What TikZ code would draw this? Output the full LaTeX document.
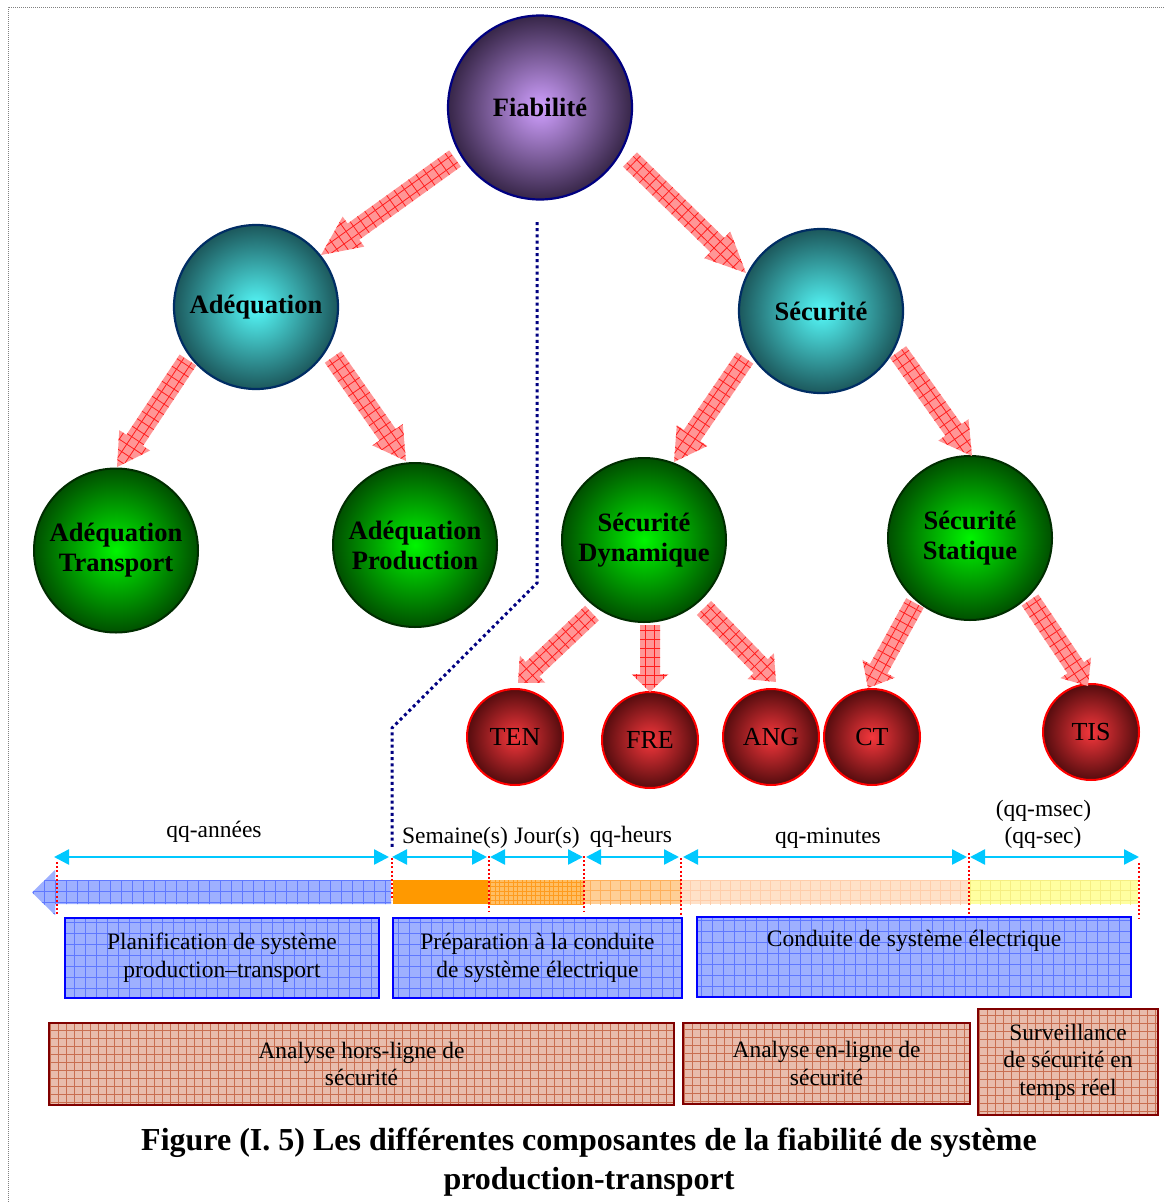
\documentclass[tikz,border=0pt]{standalone}
\usepackage{fontspec}
\setmainfont{Liberation Serif}
\usetikzlibrary{calc,arrows.meta}

% ball colours
\definecolor{fiain}{RGB}{208,160,255}
\definecolor{fiaout}{RGB}{55,38,72}
\definecolor{fiaedge}{RGB}{0,0,128}
\definecolor{tealin}{RGB}{85,250,250}
\definecolor{tealout}{RGB}{28,88,92}
\definecolor{tealedge}{RGB}{0,45,100}
\definecolor{greenin}{RGB}{0,245,0}
\definecolor{greenout}{RGB}{0,80,0}
\definecolor{greenedge}{RGB}{0,45,0}
\definecolor{redin}{RGB}{245,55,60}
\definecolor{redout}{RGB}{85,12,14}
\definecolor{rededge}{RGB}{255,0,0}
% arrows and lines
\definecolor{arrowpink}{RGB}{255,150,150}
\definecolor{arrowline}{RGB}{255,30,30}
\definecolor{navyline}{RGB}{0,0,128}
\definecolor{spancyan}{RGB}{0,200,255}
% boxes
\definecolor{boxblue}{RGB}{158,176,255}
\definecolor{gridblue}{RGB}{95,120,255}
\definecolor{edgeblue}{RGB}{0,0,255}
\definecolor{boxtan}{RGB}{232,188,172}
\definecolor{gridtan}{RGB}{200,110,80}
\definecolor{edgetan}{RGB}{128,0,0}
% time bar
\definecolor{tlorange}{RGB}{255,153,0}
\definecolor{tlorangeB}{RGB}{255,190,100}
\definecolor{tlorangeBg}{RGB}{255,155,30}
\definecolor{tlorangeC}{RGB}{255,207,150}
\definecolor{tlorangeCg}{RGB}{255,175,90}
\definecolor{tlpeach}{RGB}{255,225,200}
\definecolor{tlpeachg}{RGB}{255,205,170}
\definecolor{tlyellow}{RGB}{255,255,160}
\definecolor{tlyellowg}{RGB}{245,238,130}

% hatched block arrow from #1 (tail) to #2 (tip), head length #3
\newcommand\fatarrow[3]{%
  \path #1 coordinate (fa-tail) #2 coordinate (fa-tip);
  \pgfpointdiff{\pgfpointanchor{fa-tail}{center}}{\pgfpointanchor{fa-tip}{center}}%
  \pgfgetlastxy{\fadx}{\fady}%
  \pgfmathsetmacro{\faang}{atan2(\fady,\fadx)}%
  \pgfmathsetmacro{\falen}{veclen(\fadx,\fady)}%
  \pgfmathsetmacro{\fabase}{\falen-#3}%
  \begin{scope}[shift={(fa-tail)}, rotate=\faang, x=1pt, y=1pt]
    \clip (0,-10) -- (\fabase,-10) -- (\fabase,-18.5) -- (\falen,0)
      -- (\fabase,18.5) -- (\fabase,10) -- (0,10) -- cycle;
    \fill[arrowpink] (-2,-20) rectangle (\falen+2,20);
    \foreach \gx in {5,14,...,\falen} \draw[arrowline, line width=0.8pt] (\gx,-20) -- (\gx,20);
    \foreach \gy in {-13.5,-4.5,4.5,13.5} \draw[arrowline, line width=0.8pt] (0,\gy) -- (\falen,\gy);
  \end{scope}%
}

\begin{document}
\begin{tikzpicture}[x=1pt, y=-1pt,
  ball/.style={circle, inner sep=0pt, align=center},
  topball/.style={ball, minimum size=184pt, draw=fiaedge, line width=2.2pt,
    inner color=fiain, outer color=fiaout, font=\fontsize{26.5}{30}\selectfont\bfseries},
  tealball/.style={ball, minimum size=164pt, draw=tealedge, line width=2.2pt,
    inner color=tealin, outer color=tealout, font=\fontsize{26.5}{30}\selectfont\bfseries},
  greenball/.style={ball, minimum size=164pt, draw=greenedge, line width=2pt,
    inner color=greenin, outer color=greenout, font=\fontsize{26.5}{30}\selectfont\bfseries},
  redball/.style={ball, minimum size=96pt, draw=rededge, line width=2pt,
    inner color=redin, outer color=redout, font=\fontsize{26}{30}\selectfont},
  bluebox/.style={draw=edgeblue, line width=2.5pt, fill=boxblue, inner sep=0pt,
    align=center, font=\fontsize{23.5}{28}\selectfont,
    path picture={\draw[gridblue, line width=0.6pt, step=11pt]
      (path picture bounding box.south west) grid (path picture bounding box.north east);}},
  tanbox/.style={draw=edgetan, line width=2.8pt, fill=boxtan, inner sep=0pt,
    align=center, font=\fontsize{23.5}{27.5}\selectfont,
    path picture={\draw[gridtan, line width=0.5pt, step=8pt]
      (path picture bounding box.south west) grid (path picture bounding box.north east);}},
  tlabel/.style={anchor=base, inner sep=0pt, font=\fontsize{23.5}{28}\selectfont},
  span/.style={spancyan, line width=2.5pt,
    {Triangle[length=15pt,width=15pt]}-{Triangle[length=15pt,width=15pt]}},
  tick/.style={red, line width=2pt, dash pattern=on 2pt off 2.2pt},
  divider/.style={navyline, line width=3pt, dash pattern=on 3pt off 3.2pt},
  frame/.style={gray, line width=0.9pt, dash pattern=on 1pt off 1pt}
]
\useasboundingbox (0,0) rectangle (1165,1202);

% page frame
\draw[frame] (8,1202) -- (8,7) -- (1165,7);

% hierarchy
\node[topball]   (fia) at (540,107.5) {Fiabilité};
\node[tealball]  (ade) at (256,307) {Adéquation};
\node[tealball]  (sec) at (821,311) {Sécurité};
\node[greenball] (at)  at (116,550.5) {Adéquation\\Transport};
\node[greenball] (ap)  at (415,545) {Adéquation\\Production};
\node[greenball] (sd)  at (644,540) {Sécurité\\Dynamique};
\node[greenball] (ss)  at (970,538) {Sécurité\\Statique};
\node[redball] (ten) at (515,737) {TEN};
\node[redball] (fre) at (650,740) {FRE};
\node[redball] (ang) at (771,737) {ANG};
\node[redball] (ct)  at (872,737) {CT};
\node[redball] (tis) at (1091,732) {TIS};

\fatarrow{($(fia)+(-85,51)$)}{($(ade)+(65,-52)$)}{40}
\fatarrow{($(fia)+(90,52)$)}{($(sec)+(-75,-38)$)}{40}
\fatarrow{($(ade)+(-68,53)$)}{($(at)+(1,-83.5)$)}{32}
\fatarrow{($(ade)+(77,50)$)}{($(ap)+(-9,-84)$)}{32}
\fatarrow{($(sec)+(-76,47)$)}{($(sd)+(30,-78)$)}{32}
\fatarrow{($(sec)+(77,41)$)}{($(ss)+(2,-82)$)}{32}
\fatarrow{($(sd)+(-52,73)$)}{($(ten)+(3,-54)$)}{20}
\fatarrow{($(sd)+(6,85)$)}{($(fre)+(0,-48)$)}{18}
\fatarrow{($(sd)+(60,68)$)}{($(ang)+(5,-55)$)}{22}
\fatarrow{($(ss)+(-55,65)$)}{($(ct)+(-4,-49)$)}{22}
\fatarrow{($(ss)+(60,62)$)}{($(tis)+(-3,-46)$)}{22}

% dotted divider between planning and operation
\coordinate (dv0) at (537,222);
\coordinate (dv1) at (537,583);
\coordinate (dv2) at (392,728);
\coordinate (dv3) at (392,850);
\draw[divider] (dv0) -- (dv1) -- (dv2) -- (dv3);

% time bar
\begin{scope}
  \clip (32,892.5) -- (55,870) -- (55,880) -- (391,880) -- (391,904) -- (55,904) -- (55,915) -- cycle;
  \fill[boxblue] (30,916) rectangle (392,865);
  \draw[gridblue, line width=0.6pt, step=11pt] (30,916) grid (392,865);
\end{scope}
\fill[tlorange] (393,880) rectangle (488,904);
\begin{scope}
  \clip (488,880) rectangle (584,904);
  \fill[tlorangeB] (488,904) rectangle (584,880);
  \draw[tlorangeBg, line width=0.5pt, step=4.5pt] (486,906) grid (586,878);
\end{scope}
\begin{scope}
  \clip (584,880) rectangle (681,904);
  \fill[tlorangeC] (584,904) rectangle (681,880);
  \draw[tlorangeCg, line width=0.7pt, step=10pt] (582,906) grid (683,878);
\end{scope}
\begin{scope}
  \clip (681,880) rectangle (968,904);
  \fill[tlpeach] (681,904) rectangle (968,880);
  \draw[tlpeachg, line width=0.6pt, step=10pt] (679,906) grid (970,878);
\end{scope}
\begin{scope}
  \clip (968,880) rectangle (1138,904);
  \fill[tlyellow] (968,904) rectangle (1138,880);
  \draw[tlyellowg, line width=0.5pt, step=10pt] (966,906) grid (1140,878);
\end{scope}

% time scale boundaries
\draw[tick] (57,862) -- (57,916);
\draw[tick] (392,858) -- (392,900);
\draw[tick] (488.5,856) -- (488.5,912);
\draw[tick] (584,856) -- (584,912);
\draw[tick] (681,858) -- (681,917);
\draw[tick] (968.5,853) -- (968.5,918);
\draw[tick] (1138.5,863) -- (1138.5,918);

% time spans
\coordinate (s0a) at (54,857);   \coordinate (s0b) at (389,857);
\coordinate (s1a) at (392,857);  \coordinate (s1b) at (487,857);
\coordinate (s2a) at (490,857);  \coordinate (s2b) at (583,857);
\coordinate (s3a) at (586,857);  \coordinate (s3b) at (679,857);
\coordinate (s4a) at (683,857);  \coordinate (s4b) at (967,857);
\coordinate (s5a) at (970,857);  \coordinate (s5b) at (1139,857);
\draw[span] (s0a) -- (s0b);
\draw[span] (s1a) -- (s1b);
\draw[span] (s2a) -- (s2b);
\draw[span] (s3a) -- (s3b);
\draw[span] (s4a) -- (s4b);
\draw[span] (s5a) -- (s5b);

\node[tlabel] (l0) at (214,837) {qq-années};
\node[tlabel] (l1) at (455,843) {Semaine(s)};
\node[tlabel] (l2) at (547,843) {Jour(s)};
\node[tlabel] (l3) at (631,842) {qq-heurs};
\node[tlabel] (l4) at (828,843) {qq-minutes};
\node[tlabel] (l5) at (1043.5,816) {(qq-msec)};
\node[tlabel] (l6) at (1043,843) {(qq-sec)};

% activities
\node[bluebox, minimum width=314pt, minimum height=80pt] (plan) at (222,958)
  {Planification de système\\production–transport};
\node[bluebox, minimum width=289pt, minimum height=80pt] (prep) at (537.5,958)
  {Préparation à la conduite\\de système électrique};
\node[bluebox, minimum width=434pt, minimum height=80pt] (cond) at (914,957)
  {Conduite de système électrique\\\strut};

\node[tanbox, minimum width=625pt, minimum height=82pt] (hors) at (361.5,1064)
  {Analyse hors-ligne de\\sécurité};
\node[tanbox, minimum width=287pt, minimum height=81pt] (enl) at (826.5,1063.5)
  {Analyse en-ligne de\\sécurité};
\node[tanbox, minimum width=180pt, minimum height=106pt] (surv) at (1068,1062)
  {Surveillance\\de sécurité en\\temps réel};

% caption
\node[align=center, inner sep=0pt, font=\fontsize{32}{39}\selectfont\bfseries] (cap) at (589,1162)
  {Figure (I. 5) Les différentes composantes de la fiabilité de système\\production-transport};
\end{tikzpicture}
\end{document}
